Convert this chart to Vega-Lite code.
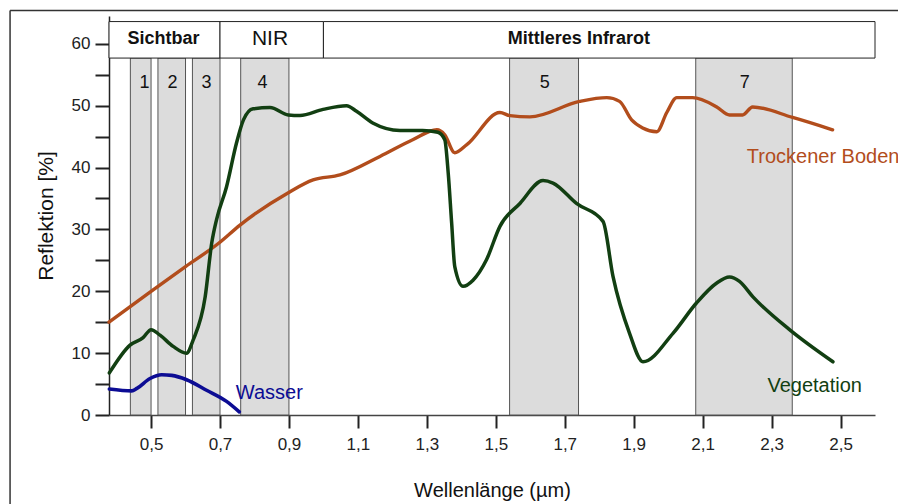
{
  "$schema": "https://vega.github.io/schema/vega-lite/v6.json",
  "width": 766,
  "height": 399,
  "autosize": {"type": "none"},
  "padding": {"left": 109, "top": 16, "right": 23, "bottom": 89},
  "background": "white",
  "config": {
    "view": {"stroke": null},
    "font": "Liberation Sans",
    "axis": {"grid": false}
  },
  "datasets": {
    "bands": [
      {"x": 0.44, "x2": 0.50, "y": 0, "y2": 57.7},
      {"x": 0.52, "x2": 0.60, "y": 0, "y2": 57.7},
      {"x": 0.62, "x2": 0.70, "y": 0, "y2": 57.7},
      {"x": 0.76, "x2": 0.90, "y": 0, "y2": 57.7},
      {"x": 1.54, "x2": 1.74, "y": 0, "y2": 57.7},
      {"x": 2.08, "x2": 2.36, "y": 0, "y2": 57.7}
    ],
    "bandlabels": [
      {"x": 0.481, "y": 53.7, "label": "1"},
      {"x": 0.562, "y": 53.7, "label": "2"},
      {"x": 0.661, "y": 53.7, "label": "3"},
      {"x": 0.823, "y": 53.7, "label": "4"},
      {"x": 1.642, "y": 53.7, "label": "5"},
      {"x": 2.222, "y": 53.7, "label": "7"}
    ],
    "header": [
      {"x": 0.378, "x2": 0.70, "y": 57.7, "y2": 63.6},
      {"x": 0.70, "x2": 1.00, "y": 57.7, "y2": 63.6},
      {"x": 1.00, "x2": 2.60, "y": 57.7, "y2": 63.6}
    ],
    "headerbold": [
      {"x": 0.536, "y": 60.8, "label": "Sichtbar"},
      {"x": 1.741, "y": 60.8, "label": "Mittleres Infrarot"}
    ],
    "headernormal": [
      {"x": 0.845, "y": 60.8, "label": "NIR"}
    ],
    "curves": [
      {"series": "Boden", "x": 0.378, "y": 15.0},
      {"series": "Boden", "x": 0.5, "y": 20.0},
      {"series": "Boden", "x": 0.6, "y": 24.0},
      {"series": "Boden", "x": 0.697, "y": 27.8},
      {"series": "Boden", "x": 0.758, "y": 30.7},
      {"series": "Boden", "x": 0.897, "y": 35.9},
      {"series": "Boden", "x": 0.97, "y": 38.0},
      {"series": "Boden", "x": 1.048, "y": 38.8},
      {"series": "Boden", "x": 1.164, "y": 41.8},
      {"series": "Boden", "x": 1.259, "y": 44.5},
      {"series": "Boden", "x": 1.329, "y": 46.1},
      {"series": "Boden", "x": 1.352, "y": 45.3},
      {"series": "Boden", "x": 1.381, "y": 42.4},
      {"series": "Boden", "x": 1.416, "y": 43.7},
      {"series": "Boden", "x": 1.512, "y": 48.9},
      {"series": "Boden", "x": 1.541, "y": 48.4},
      {"series": "Boden", "x": 1.599, "y": 48.2},
      {"series": "Boden", "x": 1.743, "y": 50.7},
      {"series": "Boden", "x": 1.822, "y": 51.3},
      {"series": "Boden", "x": 1.859, "y": 50.7},
      {"series": "Boden", "x": 1.894, "y": 47.7},
      {"series": "Boden", "x": 1.926, "y": 46.4},
      {"series": "Boden", "x": 1.967, "y": 45.8},
      {"series": "Boden", "x": 1.996, "y": 48.9},
      {"series": "Boden", "x": 2.025, "y": 51.3},
      {"series": "Boden", "x": 2.071, "y": 51.3},
      {"series": "Boden", "x": 2.141, "y": 49.8},
      {"series": "Boden", "x": 2.178, "y": 48.5},
      {"series": "Boden", "x": 2.216, "y": 48.5},
      {"series": "Boden", "x": 2.245, "y": 49.8},
      {"series": "Boden", "x": 2.361, "y": 48.1},
      {"series": "Boden", "x": 2.477, "y": 46.1},
      {"series": "Vegetation", "x": 0.379, "y": 6.8},
      {"series": "Vegetation", "x": 0.439, "y": 11.3},
      {"series": "Vegetation", "x": 0.477, "y": 12.5},
      {"series": "Vegetation", "x": 0.5, "y": 13.8},
      {"series": "Vegetation", "x": 0.526, "y": 12.9},
      {"series": "Vegetation", "x": 0.564, "y": 11.1},
      {"series": "Vegetation", "x": 0.603, "y": 10.0},
      {"series": "Vegetation", "x": 0.622, "y": 12.1},
      {"series": "Vegetation", "x": 0.657, "y": 19.1},
      {"series": "Vegetation", "x": 0.676, "y": 27.8},
      {"series": "Vegetation", "x": 0.69, "y": 31.6},
      {"series": "Vegetation", "x": 0.719, "y": 36.9},
      {"series": "Vegetation", "x": 0.748, "y": 44.0},
      {"series": "Vegetation", "x": 0.768, "y": 47.7},
      {"series": "Vegetation", "x": 0.796, "y": 49.5},
      {"series": "Vegetation", "x": 0.845, "y": 49.7},
      {"series": "Vegetation", "x": 0.898, "y": 48.5},
      {"series": "Vegetation", "x": 0.932, "y": 48.4},
      {"series": "Vegetation", "x": 0.999, "y": 49.4},
      {"series": "Vegetation", "x": 1.067, "y": 50.0},
      {"series": "Vegetation", "x": 1.096, "y": 49.1},
      {"series": "Vegetation", "x": 1.143, "y": 47.2},
      {"series": "Vegetation", "x": 1.222, "y": 46.0},
      {"series": "Vegetation", "x": 1.288, "y": 46.0},
      {"series": "Vegetation", "x": 1.332, "y": 45.7},
      {"series": "Vegetation", "x": 1.352, "y": 44.5},
      {"series": "Vegetation", "x": 1.362, "y": 39.1},
      {"series": "Vegetation", "x": 1.372, "y": 31.0},
      {"series": "Vegetation", "x": 1.381, "y": 24.0},
      {"series": "Vegetation", "x": 1.405, "y": 20.8},
      {"series": "Vegetation", "x": 1.434, "y": 21.8},
      {"series": "Vegetation", "x": 1.473, "y": 25.1},
      {"series": "Vegetation", "x": 1.512, "y": 30.5},
      {"series": "Vegetation", "x": 1.57, "y": 34.2},
      {"series": "Vegetation", "x": 1.637, "y": 37.9},
      {"series": "Vegetation", "x": 1.666, "y": 37.5},
      {"series": "Vegetation", "x": 1.734, "y": 34.2},
      {"series": "Vegetation", "x": 1.811, "y": 31.3},
      {"series": "Vegetation", "x": 1.84, "y": 22.4},
      {"series": "Vegetation", "x": 1.888, "y": 13.2},
      {"series": "Vegetation", "x": 1.927, "y": 8.6},
      {"series": "Vegetation", "x": 2.014, "y": 13.2},
      {"series": "Vegetation", "x": 2.082, "y": 18.1},
      {"series": "Vegetation", "x": 2.14, "y": 21.3},
      {"series": "Vegetation", "x": 2.178, "y": 22.3},
      {"series": "Vegetation", "x": 2.207, "y": 21.6},
      {"series": "Vegetation", "x": 2.246, "y": 19.1},
      {"series": "Vegetation", "x": 2.352, "y": 13.8},
      {"series": "Vegetation", "x": 2.478, "y": 8.6},
      {"series": "Wasser", "x": 0.379, "y": 4.2},
      {"series": "Wasser", "x": 0.444, "y": 3.9},
      {"series": "Wasser", "x": 0.459, "y": 4.3},
      {"series": "Wasser", "x": 0.497, "y": 5.9},
      {"series": "Wasser", "x": 0.531, "y": 6.5},
      {"series": "Wasser", "x": 0.56, "y": 6.4},
      {"series": "Wasser", "x": 0.603, "y": 5.7},
      {"series": "Wasser", "x": 0.661, "y": 4.0},
      {"series": "Wasser", "x": 0.719, "y": 2.2},
      {"series": "Wasser", "x": 0.756, "y": 0.5}
    ],
    "curvelabels": [
      {"series": "Boden", "x": 2.228, "y": 41.7, "label": "Trockener Boden"},
      {"series": "Vegetation", "x": 2.288, "y": 4.7, "label": "Vegetation"},
      {"series": "Wasser", "x": 0.746, "y": 3.6, "label": "Wasser"}
    ],
    "frame": [
      {"x": 0.091, "x2": 0.091, "y": -15, "y2": 65.4},
      {"x": 0.091, "x2": 2.7, "y": 65.4, "y2": 65.4}
    ]
  },
  "encoding": {
    "x": {
      "field": "x",
      "type": "quantitative",
      "scale": {"domain": [0.378, 2.6], "nice": false, "zero": false},
      "axis": {
        "values": [0.5, 0.7, 0.9, 1.1, 1.3, 1.5, 1.7, 1.9, 2.1, 2.3, 2.5],
        "labelExpr": "replace(format(datum.value, '.1f'), '.', ',')",
        "title": "Wellenlänge (µm)",
        "titleFont": "Liberation Sans",
        "titleFontSize": 20,
        "titleFontWeight": "normal",
        "titleColor": "#111",
        "titlePadding": 28,
        "labelFont": "Liberation Sans",
        "labelFontSize": 17,
        "labelColor": "#222",
        "labelPadding": 8,
        "tickSize": 13,
        "tickWidth": 2,
        "tickColor": "#222",
        "domainColor": "#444",
        "domainWidth": 1.5
      }
    },
    "y": {
      "field": "y",
      "type": "quantitative",
      "scale": {"domain": [0, 64.5], "nice": false, "zero": false},
      "axis": {
        "values": [0, 5, 10, 15, 20, 25, 30, 35, 40, 45, 50, 55, 60],
        "labelExpr": "datum.value % 10 == 0 ? datum.label : ''",
        "title": "Reflektion [%]",
        "titleFont": "Liberation Sans",
        "titleFontSize": 21,
        "titleFontWeight": "normal",
        "titleColor": "#111",
        "titlePadding": 15,
        "labelFont": "Liberation Sans",
        "labelFontSize": 17,
        "labelColor": "#222",
        "labelPadding": 5,
        "tickSize": 14,
        "tickWidth": 2,
        "tickColor": "#222",
        "domainColor": "#222",
        "domainWidth": 1.5
      }
    }
  },
  "layer": [
    {
      "data": {"name": "bands"},
      "mark": {"type": "rect", "fill": "#dcdcdc", "stroke": "#555", "strokeWidth": 1},
      "encoding": {"x2": {"field": "x2"}, "y2": {"field": "y2"}}
    },
    {
      "data": {"name": "header"},
      "mark": {"type": "rect", "fill": "white", "stroke": "#222", "strokeWidth": 1},
      "encoding": {"x2": {"field": "x2"}, "y2": {"field": "y2"}}
    },
    {
      "data": {"name": "bandlabels"},
      "mark": {"type": "text", "fontSize": 18, "color": "#111", "font": "Liberation Sans"},
      "encoding": {"text": {"field": "label"}}
    },
    {
      "data": {"name": "headerbold"},
      "mark": {"type": "text", "fontSize": 18, "fontWeight": "bold", "color": "#111", "font": "Liberation Sans"},
      "encoding": {"text": {"field": "label"}}
    },
    {
      "data": {"name": "headernormal"},
      "mark": {"type": "text", "fontSize": 21, "color": "#111", "font": "Liberation Sans"},
      "encoding": {"text": {"field": "label"}}
    },
    {
      "data": {"name": "curves"},
      "mark": {"type": "line", "interpolate": "monotone", "strokeCap": "round"},
      "encoding": {
        "color": {
          "field": "series",
          "type": "nominal",
          "scale": {"domain": ["Boden", "Vegetation", "Wasser"], "range": ["#b24d1c", "#123f12", "#0c0c94"]},
          "legend": null
        },
        "strokeWidth": {
          "field": "series",
          "type": "nominal",
          "scale": {"domain": ["Boden", "Vegetation", "Wasser"], "range": [3.4, 3.6, 4.2]},
          "legend": null
        },
        "detail": {"field": "series"}
      }
    },
    {
      "data": {"name": "curvelabels"},
      "mark": {"type": "text", "align": "left", "baseline": "middle", "fontSize": 20, "font": "Liberation Sans"},
      "encoding": {
        "text": {"field": "label"},
        "color": {
          "field": "series",
          "type": "nominal",
          "scale": {"domain": ["Boden", "Vegetation", "Wasser"], "range": ["#b24d1c", "#123f12", "#0c0c94"]},
          "legend": null
        }
      }
    },
    {
      "data": {"name": "frame"},
      "mark": {"type": "rule", "color": "#333", "strokeWidth": 1.5},
      "encoding": {"x2": {"field": "x2"}, "y2": {"field": "y2"}}
    }
  ]
}
